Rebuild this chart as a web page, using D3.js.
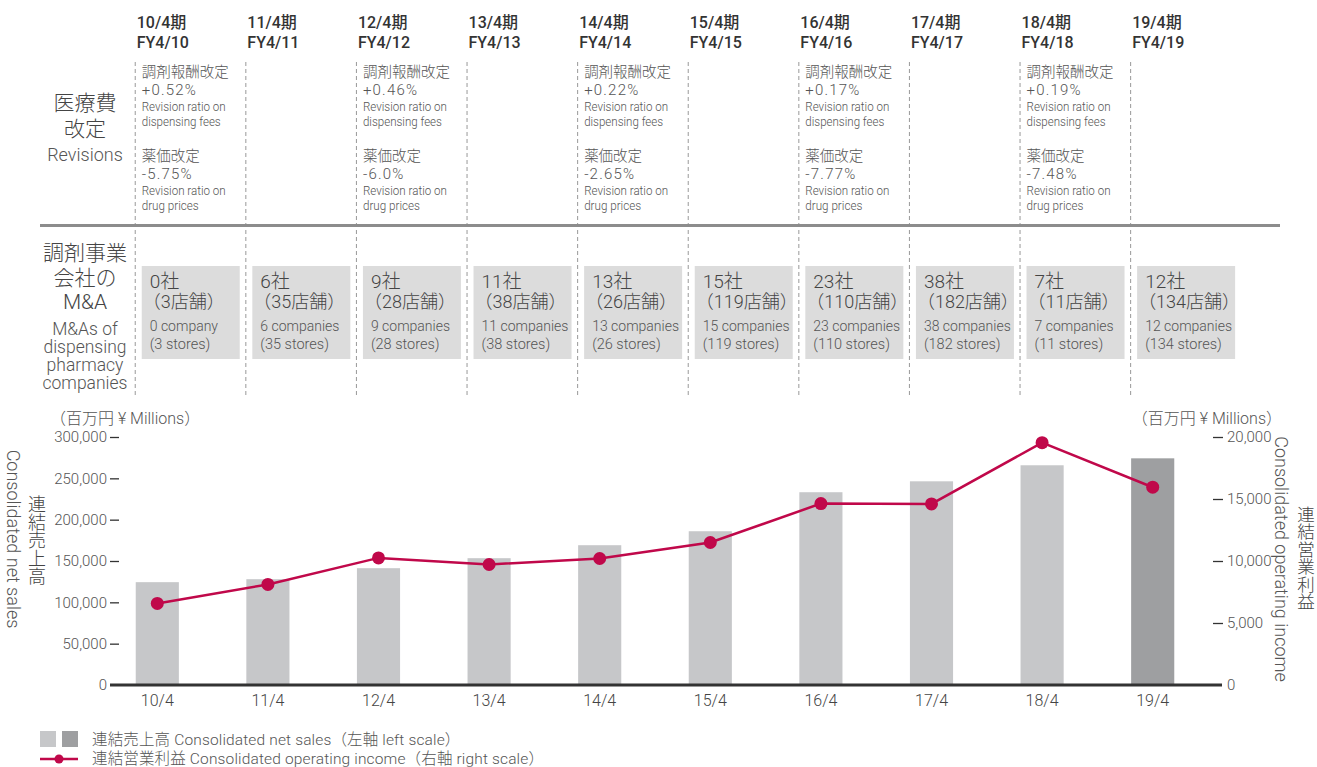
<!DOCTYPE html>
<html>
<head>
<meta charset="utf-8">
<script src="https://cdn.jsdelivr.net/npm/d3@7"></script>
<style>
  body { margin: 0; background: #fff; }
  svg text { font-family: Roboto, "Noto Sans CJK JP", sans-serif; font-weight: 300; fill: #555; }
</style>
</head>
<body>
<svg id="chart" width="1317" height="767"></svg>
<script>
// fiscal years
var years = ["10/4", "11/4", "12/4", "13/4", "14/4", "15/4", "16/4", "17/4", "18/4", "19/4"];
var fyLabels = ["FY4/10", "FY4/11", "FY4/12", "FY4/13", "FY4/14", "FY4/15", "FY4/16", "FY4/17", "FY4/18", "FY4/19"];
// revisions (null = no revision that year)
var feeRevision = ["+0.52%", null, "+0.46%", null, "+0.22%", null, "+0.17%", null, "+0.19%", null];
var drugRevision = ["-5.75%", null, "-6.0%", null, "-2.65%", null, "-7.77%", null, "-7.48%", null];
// M&A
var maCompanies = [0, 6, 9, 11, 13, 15, 23, 38, 7, 12];
var maStores = [3, 35, 28, 38, 26, 119, 110, 182, 11, 134];
// net sales (left, ¥ millions) and operating income (right, ¥ millions)
var netSales = [124400, 128000, 141300, 153400, 169100, 186000, 233200, 246400, 265800, 274200];
var opIncome = [6580, 8110, 10250, 9720, 10200, 11490, 14630, 14600, 19540, 15950];
var leftTicks = [0, 50000, 100000, 150000, 200000, 250000, 300000];
var rightTicks = [0, 5000, 10000, 15000, 20000];

var svg = d3.select("#chart");
var red = "#c0084a";

var x = d3.scaleBand().domain(years).range([102, 1208]).paddingInner(0.61).paddingOuter(0.305);
var yL = d3.scaleLinear().domain([0, 300000]).range([685, 437]);
var yR = d3.scaleLinear().domain([0, 20000]).range([685, 437]);

function colX(i) { return x(years[i]); }

// dashed column separators
svg.selectAll(".sep").data(years).enter().append("line")
  .attr("x1", function(d) { return x(d) - 0.5; })
  .attr("x2", function(d) { return x(d) - 0.5; })
  .attr("y1", 62).attr("y2", 398)
  .attr("stroke", "#999").attr("stroke-width", 1).attr("stroke-dasharray", "4,3");

// grey rule between sections
svg.append("line").attr("x1", 40).attr("x2", 1280).attr("y1", 225.5).attr("y2", 225.5)
  .attr("stroke", "#8c8c8c").attr("stroke-width", 3);

// header
years.forEach(function(d, i) {
  svg.append("text").attr("x", colX(i) + 1).attr("y", 28)
    .style("font-size", "16px").style("font-weight", "500").style("fill", "#333")
    .text(d + "期");
  svg.append("text").attr("x", colX(i) + 1).attr("y", 48)
    .style("font-size", "16px").style("font-weight", "500").style("fill", "#333")
    .text(fyLabels[i]);
});

// revision row
function revText(xx, y, s, size) {
  return svg.append("text").attr("x", xx).attr("y", y).style("font-size", size + "px").text(s);
}
years.forEach(function(d, i) {
  if (!feeRevision[i]) return;
  var tx = colX(i) + 6;
  revText(tx, 77, "調剤報酬改定", 14.5);
  revText(tx, 95, feeRevision[i], 15).style("letter-spacing", "1.2px");
  revText(tx, 111, "Revision ratio on", 12).attr("textLength", 84).attr("lengthAdjust", "spacingAndGlyphs");
  revText(tx, 126, "dispensing fees", 12).attr("textLength", 79).attr("lengthAdjust", "spacingAndGlyphs");
  revText(tx, 161, "薬価改定", 14.5);
  revText(tx, 179, drugRevision[i], 15).style("letter-spacing", "1.2px");
  revText(tx, 195, "Revision ratio on", 12).attr("textLength", 84).attr("lengthAdjust", "spacingAndGlyphs");
  revText(tx, 210, "drug prices", 12).attr("textLength", 57).attr("lengthAdjust", "spacingAndGlyphs");
});

// row titles
var rowTitles = [
  { t: "医療費", y: 110, s: 21 }, { t: "改定", y: 136, s: 21 }, { t: "Revisions", y: 161, s: 18 },
  { t: "調剤事業", y: 260, s: 21 }, { t: "会社の", y: 285, s: 21 }, { t: "M&A", y: 309, s: 21 },
  { t: "M&As of", y: 335, s: 17.5 }, { t: "dispensing", y: 353, s: 17.5 },
  { t: "pharmacy", y: 371, s: 17.5 }, { t: "companies", y: 389, s: 17.5 }
];
svg.selectAll(".rowtitle").data(rowTitles).enter().append("text")
  .attr("x", 85).attr("y", function(d) { return d.y; })
  .attr("text-anchor", "middle")
  .style("font-size", function(d) { return d.s + "px"; })
  .style("fill", function(d) { return d.s == 21 ? "#444" : "#555"; })
  .text(function(d) { return d.t; });

// M&A boxes
years.forEach(function(d, i) {
  var bx = colX(i) + 6;
  svg.append("rect").attr("x", bx).attr("y", 266).attr("width", 98).attr("height", 93).attr("fill", "#dcdcdc");
  svg.append("text").attr("x", bx + 8).attr("y", 288).style("font-size", "19px").style("fill", "#444")
    .text(maCompanies[i] + "社");
  svg.append("text").attr("x", bx + 1).attr("y", 308).style("font-size", "18px").style("fill", "#444")
    .text("（" + maStores[i] + "店舗）");
  svg.append("text").attr("x", bx + 8).attr("y", 331).style("font-size", "14px")
    .text(maCompanies[i] + (maCompanies[i] <= 1 ? " company" : " companies"));
  svg.append("text").attr("x", bx + 8).attr("y", 349).style("font-size", "14.5px")
    .text("(" + maStores[i] + " stores)");
});

// bars
svg.selectAll(".bar").data(netSales).enter().append("rect")
  .attr("x", function(d, i) { return x(years[i]); })
  .attr("y", function(d) { return yL(d); })
  .attr("width", x.bandwidth())
  .attr("height", function(d) { return yL(0) - yL(d); })
  .attr("fill", function(d, i) { return i == years.length - 1 ? "#9e9fa1" : "#c6c7c9"; });

// line
var line = d3.line()
  .x(function(d, i) { return x(years[i]) + x.bandwidth() / 2; })
  .y(function(d) { return yR(d); });
svg.append("path").attr("d", line(opIncome)).attr("fill", "none").attr("stroke", red).attr("stroke-width", 2.5);
svg.selectAll(".dot").data(opIncome).enter().append("circle")
  .attr("cx", function(d, i) { return x(years[i]) + x.bandwidth() / 2; })
  .attr("cy", function(d) { return yR(d); })
  .attr("r", 6.5).attr("fill", red);

// axes
var fmt = d3.format(",");
var axL = svg.append("g").attr("transform", "translate(119,0)")
  .call(d3.axisLeft(yL).tickValues(leftTicks).tickFormat(fmt).tickSize(9).tickPadding(3));
var axR = svg.append("g").attr("transform", "translate(1213,0)")
  .call(d3.axisRight(yR).tickValues(rightTicks).tickFormat(fmt).tickSize(10).tickPadding(4));
[axL, axR].forEach(function(a) {
  a.select(".domain").remove();
  a.selectAll("line").attr("stroke", "#333").attr("stroke-width", 1.3);
  a.selectAll("text").style("font-size", "15px").style("fill", "#555")
    .style("font-family", "Roboto, sans-serif").style("font-weight", "300");
});
axL.selectAll(".tick").filter(function(d) { return d === 0; }).select("line").remove();
axR.selectAll(".tick").filter(function(d) { return d === 0; }).select("line").remove();

var axB = svg.append("g").attr("transform", "translate(0,685)")
  .call(d3.axisBottom(x).tickSize(0).tickPadding(10));
axB.select(".domain").remove();
axB.selectAll("text").style("font-size", "16px").style("fill", "#444")
  .style("font-family", "Roboto, sans-serif").style("font-weight", "300");
svg.append("line").attr("x1", 110).attr("x2", 1222).attr("y1", 685).attr("y2", 685)
  .attr("stroke", "#333").attr("stroke-width", 3);

// units
svg.append("text").attr("x", 50).attr("y", 424).style("font-size", "16px").text("（百万円 ¥ Millions）");
svg.append("text").attr("x", 1282).attr("y", 424).attr("text-anchor", "end").style("font-size", "16px").text("（百万円 ¥ Millions）");

// axis titles
svg.append("text").attr("transform", "translate(7,539) rotate(90)").attr("text-anchor", "middle")
  .style("font-size", "18px").text("Consolidated net sales");
svg.append("text").attr("transform", "translate(1275,559) rotate(90)").attr("text-anchor", "middle")
  .style("font-size", "18px").text("Consolidated operating income");
svg.append("text").attr("x", 37).attr("y", 540).attr("text-anchor", "middle")
  .style("writing-mode", "vertical-rl").style("text-orientation", "upright")
  .style("font-size", "18px").style("fill", "#444")
  .style("font-family", "'Noto Sans CJK JP', sans-serif")
  .text("連結売上高");
svg.append("text").attr("x", 1306).attr("y", 558).attr("text-anchor", "middle")
  .style("writing-mode", "vertical-rl").style("text-orientation", "upright")
  .style("font-size", "17.5px").style("fill", "#444")
  .style("font-family", "'Noto Sans CJK JP', sans-serif")
  .text("連結営業利益");

// legend
svg.append("rect").attr("x", 40).attr("y", 731).attr("width", 16).attr("height", 16).attr("fill", "#c6c7c9");
svg.append("rect").attr("x", 62).attr("y", 731).attr("width", 16).attr("height", 16).attr("fill", "#9e9fa1");
svg.append("text").attr("x", 92).attr("y", 745).style("font-size", "15.5px").style("letter-spacing", "0.15px")
  .text("連結売上高 Consolidated net sales（左軸 left scale）");
svg.append("line").attr("x1", 40).attr("x2", 78).attr("y1", 759).attr("y2", 759).attr("stroke", red).attr("stroke-width", 2.5);
svg.append("circle").attr("cx", 59).attr("cy", 759).attr("r", 4.5).attr("fill", red);
svg.append("text").attr("x", 92).attr("y", 764).style("font-size", "15.5px").style("letter-spacing", "0.15px")
  .text("連結営業利益 Consolidated operating income（右軸 right scale）");
</script>
</body>
</html>
